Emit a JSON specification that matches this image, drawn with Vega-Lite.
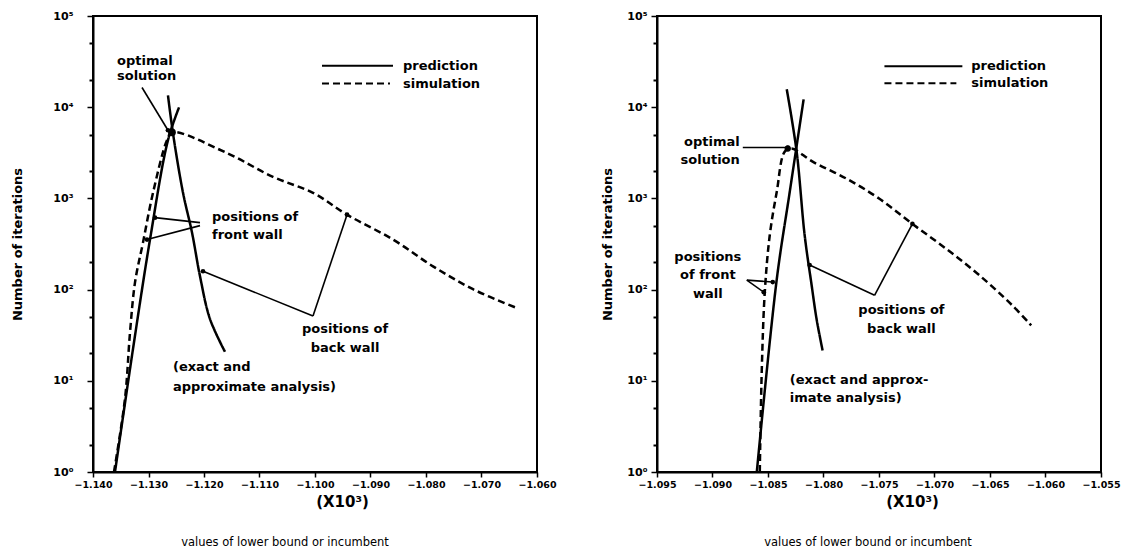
{
  "$schema": "https://vega.github.io/schema/vega-lite/v6.json",
  "padding": {"left": 10, "top": 9, "right": 5, "bottom": 2},
  "background": "white",
  "spacing": 120,
  "bounds": "flush",
  "config": {
    "view": {"stroke": "black", "strokeWidth": 2},
    "font": "DejaVu Sans",
    "text": {"font": "DejaVu Sans", "fontWeight": "bold", "fontSize": 13, "color": "black", "baseline": "middle"},
    "axis": {"domainColor": "black", "domainWidth": 2, "tickColor": "black", "tickWidth": 1.5, "labelColor": "black", "titleColor": "black", "grid": false, "labelFont": "DejaVu Sans", "titleFont": "DejaVu Sans", "labelFlush": false, "labelOverlap": false}
  },
  "datasets": {
    "curves": [
      {"p": "L", "curve": "L_sim", "kind": "simulation", "o": 1, "x": -1.13622, "y": 1},
      {"p": "L", "curve": "L_sim", "kind": "simulation", "o": 2, "x": -1.13423, "y": 6.4},
      {"p": "L", "curve": "L_sim", "kind": "simulation", "o": 3, "x": -1.13333, "y": 34},
      {"p": "L", "curve": "L_sim", "kind": "simulation", "o": 4, "x": -1.13243, "y": 120},
      {"p": "L", "curve": "L_sim", "kind": "simulation", "o": 5, "x": -1.13099, "y": 328},
      {"p": "L", "curve": "L_sim", "kind": "simulation", "o": 6, "x": -1.12919, "y": 1151},
      {"p": "L", "curve": "L_sim", "kind": "simulation", "o": 7, "x": -1.12667, "y": 4350},
      {"p": "L", "curve": "L_sim", "kind": "simulation", "o": 8, "x": -1.12577, "y": 5310},
      {"p": "L", "curve": "L_sim", "kind": "simulation", "o": 9, "x": -1.11586, "y": 3140},
      {"p": "L", "curve": "L_sim", "kind": "simulation", "o": 10, "x": -1.10757, "y": 1720},
      {"p": "L", "curve": "L_sim", "kind": "simulation", "o": 11, "x": -1.10036, "y": 1151},
      {"p": "L", "curve": "L_sim", "kind": "simulation", "o": 12, "x": -1.09423, "y": 663},
      {"p": "L", "curve": "L_sim", "kind": "simulation", "o": 13, "x": -1.08595, "y": 354},
      {"p": "L", "curve": "L_sim", "kind": "simulation", "o": 14, "x": -1.07874, "y": 180},
      {"p": "L", "curve": "L_sim", "kind": "simulation", "o": 15, "x": -1.07153, "y": 101},
      {"p": "L", "curve": "L_sim", "kind": "simulation", "o": 16, "x": -1.06396, "y": 64},
      {"p": "L", "curve": "L_front", "kind": "prediction", "o": 1, "x": -1.13604, "y": 1},
      {"p": "L", "curve": "L_front", "kind": "prediction", "o": 2, "x": -1.13279, "y": 22.4},
      {"p": "L", "curve": "L_front", "kind": "prediction", "o": 3, "x": -1.12973, "y": 354},
      {"p": "L", "curve": "L_front", "kind": "prediction", "o": 4, "x": -1.12649, "y": 4350},
      {"p": "L", "curve": "L_front", "kind": "prediction", "o": 5, "x": -1.1245, "y": 9950},
      {"p": "L", "curve": "L_back", "kind": "prediction", "o": 1, "x": -1.12649, "y": 13450},
      {"p": "L", "curve": "L_back", "kind": "prediction", "o": 2, "x": -1.12559, "y": 5190},
      {"p": "L", "curve": "L_back", "kind": "prediction", "o": 3, "x": -1.12378, "y": 1151},
      {"p": "L", "curve": "L_back", "kind": "prediction", "o": 4, "x": -1.12216, "y": 422},
      {"p": "L", "curve": "L_back", "kind": "prediction", "o": 5, "x": -1.12072, "y": 140},
      {"p": "L", "curve": "L_back", "kind": "prediction", "o": 6, "x": -1.11892, "y": 47.6},
      {"p": "L", "curve": "L_back", "kind": "prediction", "o": 7, "x": -1.11622, "y": 20.8},
      {"p": "R", "curve": "R_sim", "kind": "simulation", "o": 1, "x": -1.08574, "y": 1},
      {"p": "R", "curve": "R_sim", "kind": "simulation", "o": 2, "x": -1.08556, "y": 13.3},
      {"p": "R", "curve": "R_sim", "kind": "simulation", "o": 3, "x": -1.08529, "y": 93.6},
      {"p": "R", "curve": "R_sim", "kind": "simulation", "o": 4, "x": -1.08484, "y": 397},
      {"p": "R", "curve": "R_sim", "kind": "simulation", "o": 5, "x": -1.08421, "y": 1182},
      {"p": "R", "curve": "R_sim", "kind": "simulation", "o": 6, "x": -1.08349, "y": 3260},
      {"p": "R", "curve": "R_sim", "kind": "simulation", "o": 7, "x": -1.08287, "y": 3520},
      {"p": "R", "curve": "R_sim", "kind": "simulation", "o": 8, "x": -1.08098, "y": 2530},
      {"p": "R", "curve": "R_sim", "kind": "simulation", "o": 9, "x": -1.07792, "y": 1644},
      {"p": "R", "curve": "R_sim", "kind": "simulation", "o": 10, "x": -1.07496, "y": 990},
      {"p": "R", "curve": "R_sim", "kind": "simulation", "o": 11, "x": -1.07199, "y": 525},
      {"p": "R", "curve": "R_sim", "kind": "simulation", "o": 12, "x": -1.06893, "y": 279},
      {"p": "R", "curve": "R_sim", "kind": "simulation", "o": 13, "x": -1.06597, "y": 144},
      {"p": "R", "curve": "R_sim", "kind": "simulation", "o": 14, "x": -1.063, "y": 67.3},
      {"p": "R", "curve": "R_sim", "kind": "simulation", "o": 15, "x": -1.06129, "y": 40.5},
      {"p": "R", "curve": "R_front", "kind": "prediction", "o": 1, "x": -1.08601, "y": 1},
      {"p": "R", "curve": "R_front", "kind": "prediction", "o": 2, "x": -1.08421, "y": 130},
      {"p": "R", "curve": "R_front", "kind": "prediction", "o": 3, "x": -1.08304, "y": 1182},
      {"p": "R", "curve": "R_front", "kind": "prediction", "o": 4, "x": -1.08179, "y": 12190},
      {"p": "R", "curve": "R_back", "kind": "prediction", "o": 1, "x": -1.08331, "y": 15700},
      {"p": "R", "curve": "R_back", "kind": "prediction", "o": 2, "x": -1.08242, "y": 3260},
      {"p": "R", "curve": "R_back", "kind": "prediction", "o": 3, "x": -1.0817, "y": 397},
      {"p": "R", "curve": "R_back", "kind": "prediction", "o": 4, "x": -1.08107, "y": 112},
      {"p": "R", "curve": "R_back", "kind": "prediction", "o": 5, "x": -1.08062, "y": 47.2},
      {"p": "R", "curve": "R_back", "kind": "prediction", "o": 6, "x": -1.08008, "y": 21.5}
    ],
    "optimum": [
      {"p": "L", "x": -1.12577, "y": 5310},
      {"p": "R", "x": -1.08322, "y": 3520}
    ],
    "arrows": [
      {"p": "L", "x": -1.13117, "y": 16440, "x2": -1.12649, "y2": 5590},
      {"p": "L", "x": -1.12072, "y": 542, "x2": -1.12883, "y2": 615},
      {"p": "L", "x": -1.12072, "y": 503, "x2": -1.13027, "y2": 354},
      {"p": "L", "x": -1.10036, "y": 51.3, "x2": -1.12018, "y2": 159},
      {"p": "L", "x": -1.10036, "y": 51.3, "x2": -1.09423, "y2": 663},
      {"p": "R", "x": -1.08727, "y": 3610, "x2": -1.08322, "y2": 3610},
      {"p": "R", "x": -1.08691, "y": 127, "x2": -1.08457, "y2": 121},
      {"p": "R", "x": -1.08691, "y": 127, "x2": -1.08538, "y2": 93.6},
      {"p": "R", "x": -1.0754, "y": 86.7, "x2": -1.08125, "y2": 186},
      {"p": "R", "x": -1.0754, "y": 86.7, "x2": -1.07199, "y2": 525}
    ],
    "legend": [
      {"p": "L", "kind": "prediction", "x": -1.09874, "x2": -1.08595, "y": 28530},
      {"p": "L", "kind": "simulation", "x": -1.09874, "x2": -1.08649, "y": 18160},
      {"p": "R", "kind": "prediction", "x": -1.07451, "x2": -1.06749, "y": 28130},
      {"p": "R", "kind": "simulation", "x": -1.07451, "x2": -1.06803, "y": 18290}
    ],
    "notesStart": [
      {"p": "L", "text": "optimal", "x": -1.13568, "y": 32360},
      {"p": "L", "text": "solution", "x": -1.13568, "y": 22200},
      {"p": "L", "text": "positions of", "x": -1.11856, "y": 630},
      {"p": "L", "text": "front wall", "x": -1.11856, "y": 401},
      {"p": "L", "text": "(exact and", "x": -1.12559, "y": 14.3},
      {"p": "L", "text": "approximate analysis)", "x": -1.12559, "y": 8.65},
      {"p": "L", "text": "prediction", "x": -1.08414, "y": 28530},
      {"p": "L", "text": "simulation", "x": -1.08414, "y": 18160},
      {"p": "R", "text": "(exact and approx-", "x": -1.08304, "y": 10.3},
      {"p": "R", "text": "imate analysis)", "x": -1.08304, "y": 6.53},
      {"p": "R", "text": "prediction", "x": -1.06669, "y": 28130},
      {"p": "R", "text": "simulation", "x": -1.06669, "y": 18290}
    ],
    "notesMiddle": [
      {"p": "L", "text": "positions of", "x": -1.09459, "y": 37},
      {"p": "L", "text": "back wall", "x": -1.09459, "y": 23},
      {"p": "R", "text": "positions", "x": -1.09042, "y": 227},
      {"p": "R", "text": "of front", "x": -1.09042, "y": 144},
      {"p": "R", "text": "wall", "x": -1.09042, "y": 89},
      {"p": "R", "text": "positions of", "x": -1.07298, "y": 59.3},
      {"p": "R", "text": "back wall", "x": -1.07298, "y": 36.6}
    ],
    "notesEnd": [
      {"p": "R", "text": "optimal", "x": -1.08754, "y": 4200},
      {"p": "R", "text": "solution", "x": -1.08754, "y": 2661}
    ]
  },
  "hconcat": [
    {
      "width": 444,
      "height": 456,
      "title": {"text": "values of lower bound or incumbent", "orient": "bottom", "offset": 27, "fontSize": 11.5, "fontWeight": "normal", "font": "DejaVu Sans", "color": "black", "dx": -30},
      "resolve": {"axis": {"y": "independent"}},
      "layer": [
        {
          "data": {"name": "curves"},
          "transform": [{"filter": "datum.p === 'L'"}],
          "mark": {"type": "line", "color": "black", "strokeWidth": 2.5, "interpolate": "catmull-rom"},
          "encoding": {
            "x": {"field": "x", "type": "quantitative", "scale": {"domain": [-1.14, -1.06], "nice": false, "zero": false},
                  "axis": {"values": [-1.14, -1.13, -1.12, -1.11, -1.1, -1.09, -1.08, -1.07, -1.06], "format": ".3f", "labelFontSize": 9.5, "labelFontWeight": "bold", "tickSize": 5, "labelPadding": 2, "title": "(X10³)", "titleFontSize": 15, "titleFontWeight": "bold", "titlePadding": 6, "titleX": 249}},
            "y": {"field": "y", "type": "quantitative", "scale": {"type": "log", "domain": [1, 100000], "nice": false},
                  "axis": {"orient": "left", "values": [1, 10, 100, 1000, 10000, 100000], "labelExpr": "'10' + ['⁰','¹','²','³','⁴','⁵'][round(log(datum.value)/LN10)]", "labelFontSize": 11, "labelFontWeight": "bold", "tickSize": 6, "labelPadding": 14, "title": "Number of iterations", "titleFontSize": 13, "titleFontWeight": "bold", "titlePadding": 28}},
            "detail": {"field": "curve"},
            "order": {"field": "o"},
            "strokeDash": {"field": "kind", "type": "nominal", "scale": {"domain": ["prediction", "simulation"], "range": [[1, 0], [7, 4]]}, "legend": null}
          }
        },
        {
          "data": {"name": "legend"},
          "transform": [{"filter": "datum.p === 'L'"}],
          "mark": {"type": "rule", "color": "black", "strokeWidth": 2},
          "encoding": {
            "x": {"field": "x", "type": "quantitative"},
            "x2": {"field": "x2"},
            "y": {"field": "y", "type": "quantitative", "axis": {"orient": "left", "values": [2, 5, 20, 50, 200, 500, 2000, 5000, 20000, 50000], "labels": false, "domain": false, "tickSize": 4, "tickWidth": 2, "title": null}},
            "strokeDash": {"field": "kind", "type": "nominal", "scale": {"domain": ["prediction", "simulation"], "range": [[1, 0], [7, 4]]}, "legend": null}
          }
        },
        {
          "data": {"name": "arrows"},
          "transform": [{"filter": "datum.p === 'L'"}],
          "mark": {"type": "rule", "color": "black", "strokeWidth": 1.6},
          "encoding": {
            "x": {"field": "x", "type": "quantitative"},
            "y": {"field": "y", "type": "quantitative", "axis": null},
            "x2": {"field": "x2"},
            "y2": {"field": "y2"}
          }
        },
        {
          "data": {"name": "arrows"},
          "transform": [{"filter": "datum.p === 'L'"}],
          "mark": {"type": "point", "filled": true, "color": "black", "size": 22, "opacity": 1},
          "encoding": {
            "x": {"field": "x2", "type": "quantitative"},
            "y": {"field": "y2", "type": "quantitative", "axis": null}
          }
        },
        {
          "data": {"name": "optimum"},
          "transform": [{"filter": "datum.p === 'L'"}],
          "mark": {"type": "point", "filled": true, "color": "black", "size": 60, "opacity": 1},
          "encoding": {
            "x": {"field": "x", "type": "quantitative"},
            "y": {"field": "y", "type": "quantitative", "axis": null}
          }
        },
        {
          "data": {"name": "notesStart"},
          "transform": [{"filter": "datum.p === 'L'"}],
          "mark": {"type": "text", "align": "left"},
          "encoding": {
            "x": {"field": "x", "type": "quantitative"},
            "y": {"field": "y", "type": "quantitative", "axis": null},
            "text": {"field": "text"}
          }
        },
        {
          "data": {"name": "notesMiddle"},
          "transform": [{"filter": "datum.p === 'L'"}],
          "mark": {"type": "text", "align": "center"},
          "encoding": {
            "x": {"field": "x", "type": "quantitative"},
            "y": {"field": "y", "type": "quantitative", "axis": null},
            "text": {"field": "text"}
          }
        }
      ]
    },
    {
      "width": 444,
      "height": 456,
      "title": {"text": "values of lower bound or incumbent", "orient": "bottom", "offset": 27, "fontSize": 11.5, "fontWeight": "normal", "font": "DejaVu Sans", "color": "black", "dx": -11},
      "resolve": {"axis": {"y": "independent"}},
      "layer": [
        {
          "data": {"name": "curves"},
          "transform": [{"filter": "datum.p === 'R'"}],
          "mark": {"type": "line", "color": "black", "strokeWidth": 2.5, "interpolate": "catmull-rom"},
          "encoding": {
            "x": {"field": "x", "type": "quantitative", "scale": {"domain": [-1.095, -1.055], "nice": false, "zero": false},
                  "axis": {"values": [-1.095, -1.09, -1.085, -1.08, -1.075, -1.07, -1.065, -1.06, -1.055], "format": ".3f", "labelFontSize": 9.5, "labelFontWeight": "bold", "tickSize": 5, "labelPadding": 2, "title": "(X10³)", "titleFontSize": 15, "titleFontWeight": "bold", "titlePadding": 6, "titleX": 255}},
            "y": {"field": "y", "type": "quantitative", "scale": {"type": "log", "domain": [1, 100000], "nice": false},
                  "axis": {"orient": "left", "values": [1, 10, 100, 1000, 10000, 100000], "labelExpr": "'10' + ['⁰','¹','²','³','⁴','⁵'][round(log(datum.value)/LN10)]", "labelFontSize": 11, "labelFontWeight": "bold", "tickSize": 6, "labelPadding": 4, "title": "Number of iterations", "titleFontSize": 13, "titleFontWeight": "bold", "titlePadding": 12}},
            "detail": {"field": "curve"},
            "order": {"field": "o"},
            "strokeDash": {"field": "kind", "type": "nominal", "scale": {"domain": ["prediction", "simulation"], "range": [[1, 0], [7, 4]]}, "legend": null}
          }
        },
        {
          "data": {"name": "legend"},
          "transform": [{"filter": "datum.p === 'R'"}],
          "mark": {"type": "rule", "color": "black", "strokeWidth": 2},
          "encoding": {
            "x": {"field": "x", "type": "quantitative"},
            "x2": {"field": "x2"},
            "y": {"field": "y", "type": "quantitative", "axis": {"orient": "left", "values": [2, 5, 20, 50, 200, 500, 2000, 5000, 20000, 50000], "labels": false, "domain": false, "tickSize": 4, "tickWidth": 2, "title": null}},
            "strokeDash": {"field": "kind", "type": "nominal", "scale": {"domain": ["prediction", "simulation"], "range": [[1, 0], [7, 4]]}, "legend": null}
          }
        },
        {
          "data": {"name": "arrows"},
          "transform": [{"filter": "datum.p === 'R'"}],
          "mark": {"type": "rule", "color": "black", "strokeWidth": 1.6},
          "encoding": {
            "x": {"field": "x", "type": "quantitative"},
            "y": {"field": "y", "type": "quantitative", "axis": null},
            "x2": {"field": "x2"},
            "y2": {"field": "y2"}
          }
        },
        {
          "data": {"name": "arrows"},
          "transform": [{"filter": "datum.p === 'R'"}],
          "mark": {"type": "point", "filled": true, "color": "black", "size": 22, "opacity": 1},
          "encoding": {
            "x": {"field": "x2", "type": "quantitative"},
            "y": {"field": "y2", "type": "quantitative", "axis": null}
          }
        },
        {
          "data": {"name": "optimum"},
          "transform": [{"filter": "datum.p === 'R'"}],
          "mark": {"type": "point", "filled": true, "color": "black", "size": 40, "opacity": 1},
          "encoding": {
            "x": {"field": "x", "type": "quantitative"},
            "y": {"field": "y", "type": "quantitative", "axis": null}
          }
        },
        {
          "data": {"name": "notesStart"},
          "transform": [{"filter": "datum.p === 'R'"}],
          "mark": {"type": "text", "align": "left"},
          "encoding": {
            "x": {"field": "x", "type": "quantitative"},
            "y": {"field": "y", "type": "quantitative", "axis": null},
            "text": {"field": "text"}
          }
        },
        {
          "data": {"name": "notesMiddle"},
          "transform": [{"filter": "datum.p === 'R'"}],
          "mark": {"type": "text", "align": "center"},
          "encoding": {
            "x": {"field": "x", "type": "quantitative"},
            "y": {"field": "y", "type": "quantitative", "axis": null},
            "text": {"field": "text"}
          }
        },
        {
          "data": {"name": "notesEnd"},
          "transform": [{"filter": "datum.p === 'R'"}],
          "mark": {"type": "text", "align": "right"},
          "encoding": {
            "x": {"field": "x", "type": "quantitative"},
            "y": {"field": "y", "type": "quantitative", "axis": null},
            "text": {"field": "text"}
          }
        }
      ]
    }
  ]
}
